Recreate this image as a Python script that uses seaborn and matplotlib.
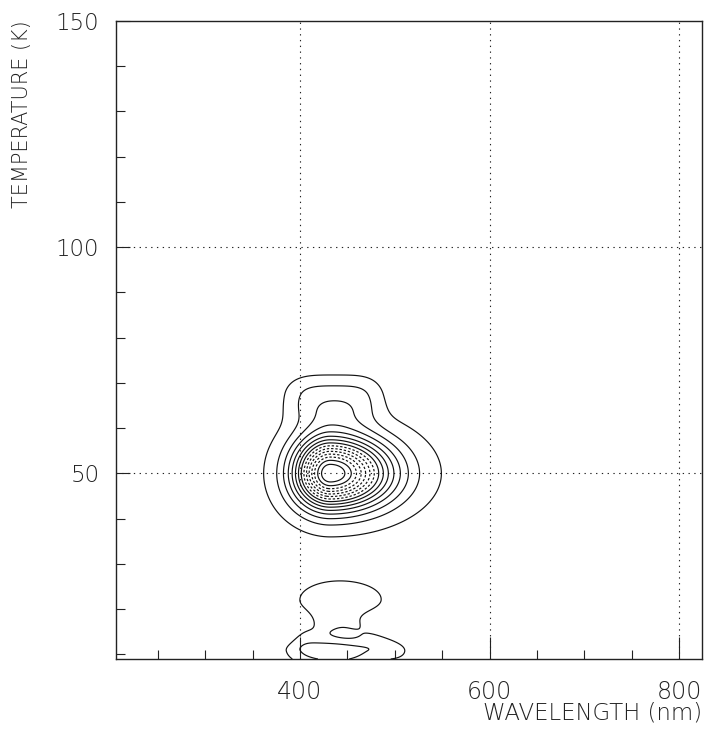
import numpy as np
import matplotlib
matplotlib.use("Agg")
import matplotlib.pyplot as plt
from matplotlib.ticker import MultipleLocator, FixedLocator
import seaborn as sns

# ---------------- data ----------------
x_limits = [206, 824]
y_limits = [9, 150]
x_major_ticks = [400, 600, 800]
y_major_ticks = [50, 100, 150]
x_label = "WAVELENGTH (nm)"
y_label = "TEMPERATURE (K)"

# emission components (split peaks): centre wavelength, centre temperature,
# amplitude, widths on each side and the wavelength-profile exponent
peak_wl     = [432, 432, 437, 437, 437, 405, 428, 458, 475, 490, 505, 443]
peak_T      = [50.0, 50.0, 67.5, 63.5, 10.8, 13.5, 16.5, 16.3, 14.0, 12.2, 10.6, 22.0]
peak_amp    = [14.5, 1.5, 1.9, 0.89, 2.7, 0.9, 0.85, 0.62, 0.62, 0.62, 0.62, 1.72]
sigma_left  = [24.6, 60, 44.0, 24, 34, 12, 12, 12, 12, 12, 12, 38.5]
sigma_right = [41.0, 100, 41.0, 24, 36, 12, 15, 12, 12, 12, 12, 38.5]
sigma_down  = [5.0, 11.5, 4.07, 3.0, 2.7, 2.5, 3.0, 1.8, 1.8, 1.8, 1.8, 2.8]
sigma_up    = [5.4, 11.0, 3.2, 2.5, 1.6, 2.5, 3.0, 1.8, 1.8, 1.8, 1.8, 3.5]
shape_wl    = [2, 2, 4, 2, 2, 2, 2, 2, 2, 2, 2, 2]

contour_levels = [1, 2, 3, 4, 5, 6, 7, 8, 9, 10, 11, 12, 13, 14, 15]
contour_styles = ["solid"] * 8 + ["dashed"] * 5 + ["solid"] * 2

# ---------------- build the intensity map ----------------
wl = np.linspace(x_limits[0], x_limits[1], 900)
temp = np.linspace(y_limits[0], y_limits[1], 1400)
WL, TT = np.meshgrid(wl, temp)
Z = np.zeros_like(WL)
for w0, t0, a, sl, sr, sd, su, p in zip(peak_wl, peak_T, peak_amp, sigma_left,
                                        sigma_right, sigma_down, sigma_up, shape_wl):
    dx = WL - w0
    dy = TT - t0
    sx = np.where(dx < 0, sl, sr)
    sy = np.where(dy < 0, sd, su)
    Z += a * np.exp(-0.5 * (np.abs(dx / sx) ** p + (dy / sy) ** 2))

# ---------------- plotting ----------------
sns.set_theme(style="white")
plt.rcParams["font.family"] = ["DejaVu Sans"]

fig = plt.figure(figsize=(7.05, 7.38), dpi=100)
ax = fig.add_axes([116 / 705, 1 - 659 / 738, (702 - 116) / 705, (659 - 21) / 738])

dash = (0, (2.0, 1.6))
styles = [dash if s == "dashed" else "solid" for s in contour_styles]
ax.contour(WL, TT, Z, levels=contour_levels, colors="#111111",
           linewidths=0.85, linestyles=styles)

ax.set_xlim(*x_limits)
ax.set_ylim(*y_limits)

ax.xaxis.set_major_locator(FixedLocator(x_major_ticks))
ax.xaxis.set_minor_locator(MultipleLocator(50))
ax.yaxis.set_major_locator(FixedLocator(y_major_ticks))
ax.yaxis.set_minor_locator(MultipleLocator(10))

ax.tick_params(axis="x", which="major", direction="in", length=16, width=0.8,
               color="#222222", labelsize=17, pad=15, labelcolor="#222222")
ax.tick_params(axis="x", which="minor", direction="in", length=6.5, width=0.8,
               color="#222222")
ax.tick_params(axis="y", which="major", direction="in", length=10, width=0.8,
               color="#222222", labelsize=16.5, pad=12, labelcolor="#222222")
ax.tick_params(axis="y", which="minor", direction="in", length=6.5, width=0.8,
               color="#222222")
ax.tick_params(top=False, right=False, bottom=True, left=True, which="both")
for lab in ax.get_xticklabels() + ax.get_yticklabels():
    lab.set_fontweight("light")

for sp in ax.spines.values():
    sp.set_color("#222222")
    sp.set_linewidth(1.0)
    sp.set_visible(True)

# dotted grid at major ticks
for xv in x_major_ticks:
    ax.axvline(xv, color="#222222", lw=0.8, ls=(0, (1.2, 4.0)), zorder=0)
for yv in y_major_ticks[:-1]:
    ax.axhline(yv, color="#222222", lw=0.8, ls=(0, (1.2, 4.0)), zorder=0)

fig.text(702 / 705, 1 - 713 / 738, x_label, ha="right", va="center",
         fontsize=16.5, color="#222222", fontweight="light")
fig.text(22 / 705, 1 - 20 / 738, y_label, ha="center", va="top", rotation=90,
         fontsize=15, color="#222222", fontweight="light")

fig.savefig("out.png", dpi=100, facecolor="white")
